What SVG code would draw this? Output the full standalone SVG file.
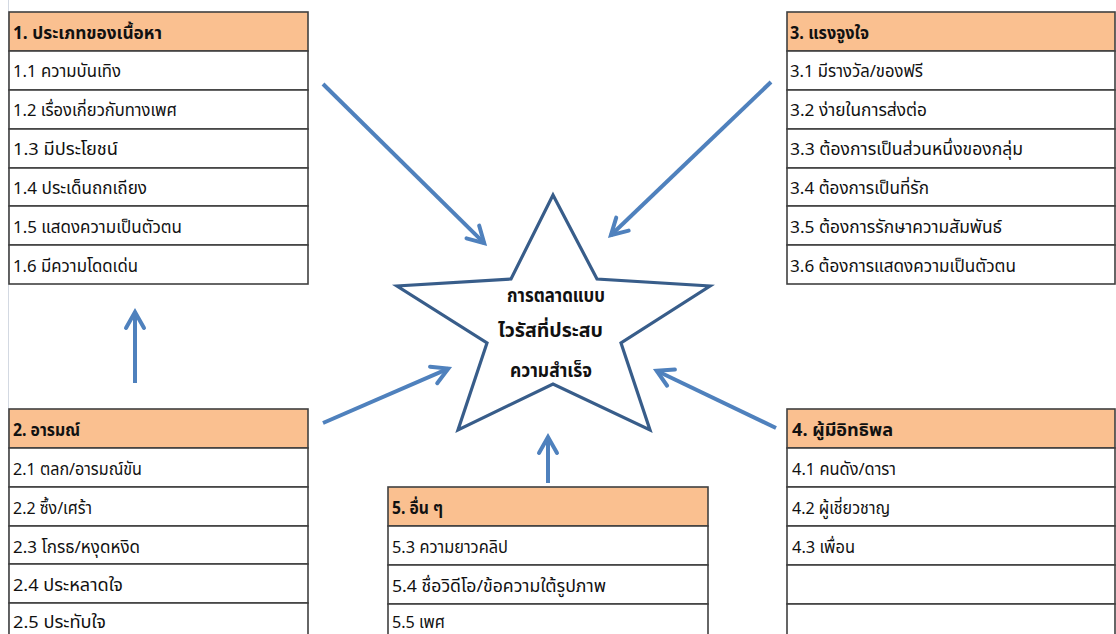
<svg xmlns="http://www.w3.org/2000/svg" width="1116" height="634" viewBox="0 0 1116 634">
  <defs>
    <style>
      .bg { fill: #ffffff; }
      .guide { stroke: #d3d9e2; stroke-width: 1; }
      .head { fill: #FAC090; stroke: #404040; stroke-width: 1.6; }
      .cell { fill: #ffffff; stroke: #404040; stroke-width: 1.6; }
      .txt { font-family: Tahoma, "Noto Sans Thai", "Noto Sans Thai UI", "Noto Sans", "DejaVu Sans", sans-serif; font-size: 17px; fill: #111111; }
      .hd { font-weight: bold; }
      .star { fill: #ffffff; stroke: #385D8A; stroke-width: 3.2; stroke-linejoin: miter; }
      .startxt { font-family: Tahoma, "Noto Sans Thai", "Noto Sans Thai UI", "Noto Sans", "DejaVu Sans", sans-serif; font-size: 19px; font-weight: bold; fill: #111111; }
      .arrow { stroke: #4F81BD; stroke-width: 4; fill: none; marker-end: url(#openHead); }
    </style>
    <marker id="openHead" markerUnits="userSpaceOnUse" viewBox="-20 -15 30 30" markerWidth="30" markerHeight="30" refX="0" refY="0" orient="auto">
      <path d="M-16,-9 L0,0 L-16,9" fill="none" stroke="#4F81BD" stroke-width="4" stroke-linecap="round" stroke-linejoin="miter"/>
    </marker>
  </defs>

  <rect class="bg" x="0" y="0" width="1116" height="634"/>
  <line class="guide" x1="8.5" y1="0" x2="8.5" y2="634"/>

  <!-- 1. content types -->
  <g id="table1">
    <rect class="head" x="9" y="12" width="299" height="39"/>
    <rect class="cell" x="9" y="51" width="299" height="39"/>
    <rect class="cell" x="9" y="90" width="299" height="39"/>
    <rect class="cell" x="9" y="129" width="299" height="39"/>
    <rect class="cell" x="9" y="168" width="299" height="38"/>
    <rect class="cell" x="9" y="206" width="299" height="39"/>
    <rect class="cell" x="9" y="245" width="299" height="39"/>
    <text class="txt hd" x="13" y="39" textLength="149" lengthAdjust="spacingAndGlyphs">1. ประเภทของเนื้อหา</text>
    <text class="txt" x="13" y="77" textLength="108" lengthAdjust="spacingAndGlyphs">1.1 ความบันเทิง</text>
    <text class="txt" x="13" y="116" textLength="164" lengthAdjust="spacingAndGlyphs">1.2 เรื่องเกี่ยวกับทางเพศ</text>
    <text class="txt" x="13" y="155" textLength="105" lengthAdjust="spacingAndGlyphs">1.3 มีประโยชน์</text>
    <text class="txt" x="13" y="194" textLength="134" lengthAdjust="spacingAndGlyphs">1.4 ประเด็นถกเถียง</text>
    <text class="txt" x="13" y="233" textLength="169" lengthAdjust="spacingAndGlyphs">1.5 แสดงความเป็นตัวตน</text>
    <text class="txt" x="13" y="272" textLength="125" lengthAdjust="spacingAndGlyphs">1.6 มีความโดดเด่น</text>
  </g>

  <!-- 3. motivation -->
  <g id="table3">
    <rect class="head" x="787" y="12" width="328" height="39"/>
    <rect class="cell" x="787" y="51" width="328" height="39"/>
    <rect class="cell" x="787" y="90" width="328" height="39"/>
    <rect class="cell" x="787" y="129" width="328" height="39"/>
    <rect class="cell" x="787" y="168" width="328" height="38"/>
    <rect class="cell" x="787" y="206" width="328" height="39"/>
    <rect class="cell" x="787" y="245" width="328" height="39"/>
    <text class="txt hd" x="790" y="39" textLength="79" lengthAdjust="spacingAndGlyphs">3. แรงจูงใจ</text>
    <text class="txt" x="790" y="77" textLength="133" lengthAdjust="spacingAndGlyphs">3.1 มีรางวัล/ของฟรี</text>
    <text class="txt" x="790" y="116" textLength="137" lengthAdjust="spacingAndGlyphs">3.2 ง่ายในการส่งต่อ</text>
    <text class="txt" x="790" y="155" textLength="233" lengthAdjust="spacingAndGlyphs">3.3 ต้องการเป็นส่วนหนึ่งของกลุ่ม</text>
    <text class="txt" x="790" y="194" textLength="139" lengthAdjust="spacingAndGlyphs">3.4 ต้องการเป็นที่รัก</text>
    <text class="txt" x="790" y="233" textLength="212" lengthAdjust="spacingAndGlyphs">3.5 ต้องการรักษาความสัมพันธ์</text>
    <text class="txt" x="790" y="272" textLength="226" lengthAdjust="spacingAndGlyphs">3.6 ต้องการแสดงความเป็นตัวตน</text>
  </g>

  <!-- 2. emotion -->
  <g id="table2">
    <rect class="head" x="9" y="409" width="299" height="39"/>
    <rect class="cell" x="9" y="448" width="299" height="39"/>
    <rect class="cell" x="9" y="487" width="299" height="39"/>
    <rect class="cell" x="9" y="526" width="299" height="38"/>
    <rect class="cell" x="9" y="564" width="299" height="39"/>
    <rect class="cell" x="9" y="603" width="299" height="39"/>
    <text class="txt hd" x="13" y="436" textLength="67" lengthAdjust="spacingAndGlyphs">2. อารมณ์</text>
    <text class="txt" x="13" y="475" textLength="129" lengthAdjust="spacingAndGlyphs">2.1 ตลก/อารมณ์ขัน</text>
    <text class="txt" x="13" y="514" textLength="79" lengthAdjust="spacingAndGlyphs">2.2 ซึ้ง/เศร้า</text>
    <text class="txt" x="13" y="553" textLength="127" lengthAdjust="spacingAndGlyphs">2.3 โกรธ/หงุดหงิด</text>
    <text class="txt" x="13" y="591" textLength="110" lengthAdjust="spacingAndGlyphs">2.4 ประหลาดใจ</text>
    <text class="txt" x="13" y="628" textLength="93" lengthAdjust="spacingAndGlyphs">2.5 ประทับใจ</text>
  </g>

  <!-- 4. influencers -->
  <g id="table4">
    <rect class="head" x="787" y="409" width="328" height="39"/>
    <rect class="cell" x="787" y="448" width="328" height="39"/>
    <rect class="cell" x="787" y="487" width="328" height="39"/>
    <rect class="cell" x="787" y="526" width="328" height="39"/>
    <rect class="cell" x="787" y="565" width="328" height="39"/>
    <rect class="cell" x="787" y="604" width="328" height="39"/>
    <text class="txt hd" x="792" y="436" textLength="101" lengthAdjust="spacingAndGlyphs">4. ผู้มีอิทธิพล</text>
    <text class="txt" x="792" y="475" textLength="104" lengthAdjust="spacingAndGlyphs">4.1 คนดัง/ดารา</text>
    <text class="txt" x="792" y="514" textLength="98" lengthAdjust="spacingAndGlyphs">4.2 ผู้เชี่ยวชาญ</text>
    <text class="txt" x="792" y="553" textLength="63" lengthAdjust="spacingAndGlyphs">4.3 เพื่อน</text>
  </g>

  <!-- 5. other -->
  <g id="table5">
    <rect class="head" x="388" y="487" width="320" height="39"/>
    <rect class="cell" x="388" y="526" width="320" height="39"/>
    <rect class="cell" x="388" y="565" width="320" height="39"/>
    <rect class="cell" x="388" y="604" width="320" height="39"/>
    <text class="txt hd" x="392" y="514" textLength="51" lengthAdjust="spacingAndGlyphs">5. อื่น ๆ</text>
    <text class="txt" x="392" y="553" textLength="116" lengthAdjust="spacingAndGlyphs">5.3 ความยาวคลิป</text>
    <text class="txt" x="392" y="592" textLength="214" lengthAdjust="spacingAndGlyphs">5.4 ชื่อวิดีโอ/ข้อความใต้รูปภาพ</text>
    <text class="txt" x="392" y="628" textLength="53" lengthAdjust="spacingAndGlyphs">5.5 เพศ</text>
  </g>

  <!-- centre: viral marketing success -->
  <g id="star">
    <polygon class="star" points="553,195 597,279 710,286 621,343 650,430 553,384 458,430 487,343 397,286 511,279"/>
    <text class="startxt" x="507" y="302" textLength="98" lengthAdjust="spacingAndGlyphs">การตลาดแบบ</text>
    <text class="startxt" x="498" y="337" textLength="105" lengthAdjust="spacingAndGlyphs">ไวรัสที่ประสบ</text>
    <text class="startxt" x="510" y="377" textLength="82" lengthAdjust="spacingAndGlyphs">ความสำเร็จ</text>
  </g>

  <!-- arrows into the star -->
  <g id="connectors">
    <line class="arrow" x1="323" y1="84" x2="484.2" y2="243.2"/>
    <line class="arrow" x1="771" y1="82" x2="610.9" y2="235.2"/>
    <line class="arrow" x1="135" y1="383" x2="135" y2="312"/>
    <line class="arrow" x1="323" y1="423" x2="448.3" y2="368.6"/>
    <line class="arrow" x1="776" y1="428" x2="656.6" y2="370.7"/>
    <line class="arrow" x1="548" y1="483" x2="548" y2="437"/>
  </g>
</svg>
